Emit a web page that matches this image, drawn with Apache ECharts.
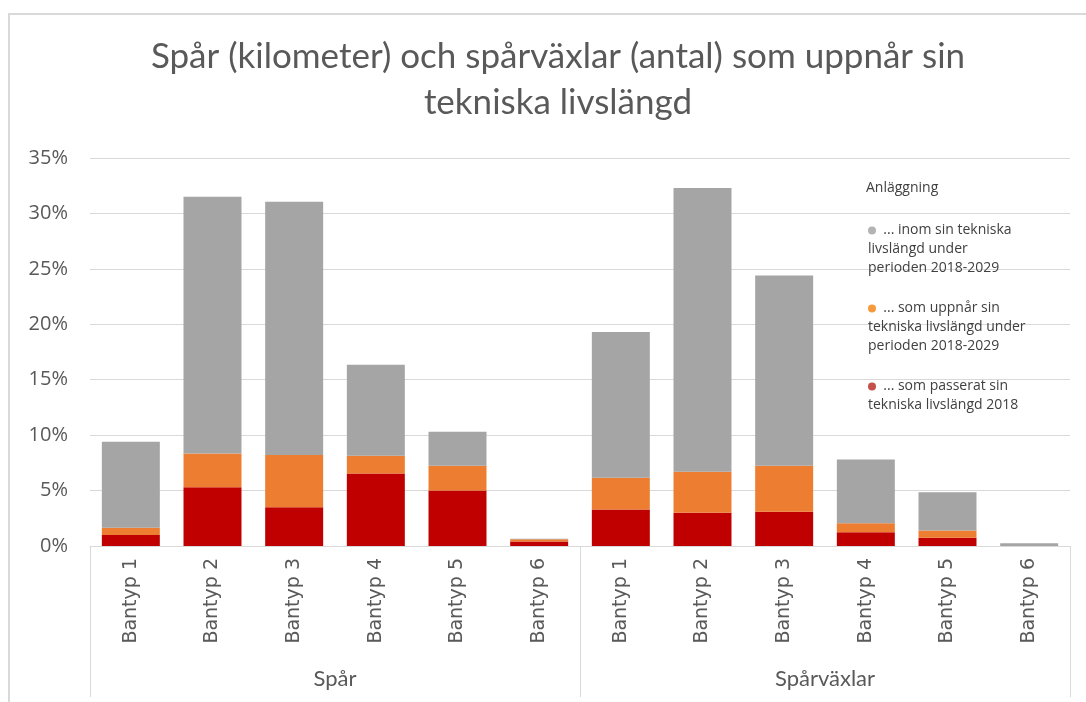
<!DOCTYPE html>
<html>
<head>
<meta charset="utf-8">
<script src="https://cdn.jsdelivr.net/npm/echarts@6/dist/echarts.min.js"></script>
<style>
  html, body { margin: 0; padding: 0; background: #fff; }
  #chart { width: 1086px; height: 702px; }
</style>
</head>
<body>
<div id="chart"></div>
<script>
// kategorier
var bantyper = ['Bantyp 1', 'Bantyp 2', 'Bantyp 3', 'Bantyp 4', 'Bantyp 5', 'Bantyp 6',
                'Bantyp 1', 'Bantyp 2', 'Bantyp 3', 'Bantyp 4', 'Bantyp 5', 'Bantyp 6']
var grupper = ['Spår', 'Spårväxlar']

// andel (%) per segment, staplas på varandra
var passerat = [1.0, 5.3, 3.5, 6.55, 5.0, 0.4, 3.3, 3.0, 3.1, 1.25, 0.75, 0]
var uppnar = [0.65, 3.05, 4.7, 1.6, 2.25, 0.2, 2.85, 3.7, 4.15, 0.8, 0.65, 0]
var inom = [7.75, 23.15, 22.85, 8.2, 3.05, 0.05, 13.15, 25.6, 17.15, 5.75, 3.45, 0.25]

var serieNamn = ['... inom sin tekniska livslängd under perioden 2018-2029',
                 '... som uppnår sin tekniska livslängd under perioden 2018-2029',
                 '... som passerat sin tekniska livslängd 2018']
var legendText = {}
legendText[serieNamn[0]] = '{g|}  ... inom sin tekniska\nlivslängd under\nperioden 2018-2029'
legendText[serieNamn[1]] = '{o|}  ... som uppnår sin\ntekniska livslängd under\nperioden 2018-2029'
legendText[serieNamn[2]] = '{r|}  ... som passerat sin\ntekniska livslängd 2018'

var textFarg = '#595959'
var linjeFarg = '#D9D9D9'
var font = 'Lato'

var myChart = echarts.init(document.getElementById('chart'))

var option = {
  animation: false,
  textStyle: { fontFamily: font },
  title: [{
    text: 'Spår (kilometer) och spårväxlar (antal) som uppnår sin\ntekniska livslängd',
    left: 553,
    textAlign: 'center',
    top: 29,
    textStyle: { fontSize: 35, fontWeight: 'normal', color: textFarg, lineHeight: 46, fontFamily: font }
  }, {
    text: 'Anläggning',
    left: 861,
    top: 176,
    textStyle: { fontSize: 14, fontWeight: 'normal', color: '#404040', fontFamily: 'Open Sans' }
  }],
  legend: {
    orient: 'vertical',
    left: 858,
    top: 216,
    itemWidth: 0,
    itemHeight: 0,
    itemGap: 21,
    data: [serieNamn[0], serieNamn[1], serieNamn[2]],
    formatter: function (name) { return legendText[name] },
    textStyle: {
      fontSize: 14,
      color: '#404040',
      lineHeight: 19,
      fontFamily: 'Open Sans',
      rich: {
        g: { width: 8, height: 8, borderRadius: 4, backgroundColor: '#B3B3B3' },
        o: { width: 8, height: 8, borderRadius: 4, backgroundColor: '#F79A3E' },
        r: { width: 8, height: 8, borderRadius: 4, backgroundColor: '#C4504B' }
      }
    }
  },
  graphic: [{
    type: 'polyline',
    shape: { points: [[9, 702], [9, 14], [1086, 14]] },
    style: { stroke: linjeFarg, lineWidth: 2, fill: null }
  }],
  grid: { left: 90, right: 16, top: 158, bottom: 156, containLabel: false },
  xAxis: [{
    type: 'category',
    data: bantyper,
    axisLine: { lineStyle: { color: linjeFarg, width: 1 } },
    axisTick: { show: false },
    axisLabel: { rotate: 90, interval: 0, fontSize: 19, color: textFarg, margin: 12, fontFamily: 'DejaVu Sans' }
  }, {
    type: 'category',
    data: grupper,
    position: 'bottom',
    offset: 151,
    axisLine: { show: false },
    axisTick: { show: true, inside: true, length: 151, interval: 0, lineStyle: { color: linjeFarg, width: 1 } },
    axisLabel: { inside: true, fontSize: 22, color: textFarg, margin: 7, fontFamily: font }
  }],
  yAxis: {
    type: 'value',
    min: 0,
    max: 35,
    interval: 5,
    axisLine: { show: false },
    axisTick: { show: false },
    splitLine: { lineStyle: { color: linjeFarg, width: 1 } },
    axisLabel: { formatter: '{value}%', fontSize: 20, color: textFarg, margin: 22, fontFamily: 'Open Sans' }
  },
  series: [{
    name: serieNamn[2],
    type: 'bar',
    stack: 'andel',
    barCategoryGap: '29%',
    data: passerat,
    itemStyle: { color: '#C00000' }
  }, {
    name: serieNamn[1],
    type: 'bar',
    stack: 'andel',
    data: uppnar,
    itemStyle: { color: '#ED7D31' }
  }, {
    name: serieNamn[0],
    type: 'bar',
    stack: 'andel',
    data: inom,
    itemStyle: { color: '#A5A5A5' }
  }]
}

myChart.setOption(option)
</script>
</body>
</html>
